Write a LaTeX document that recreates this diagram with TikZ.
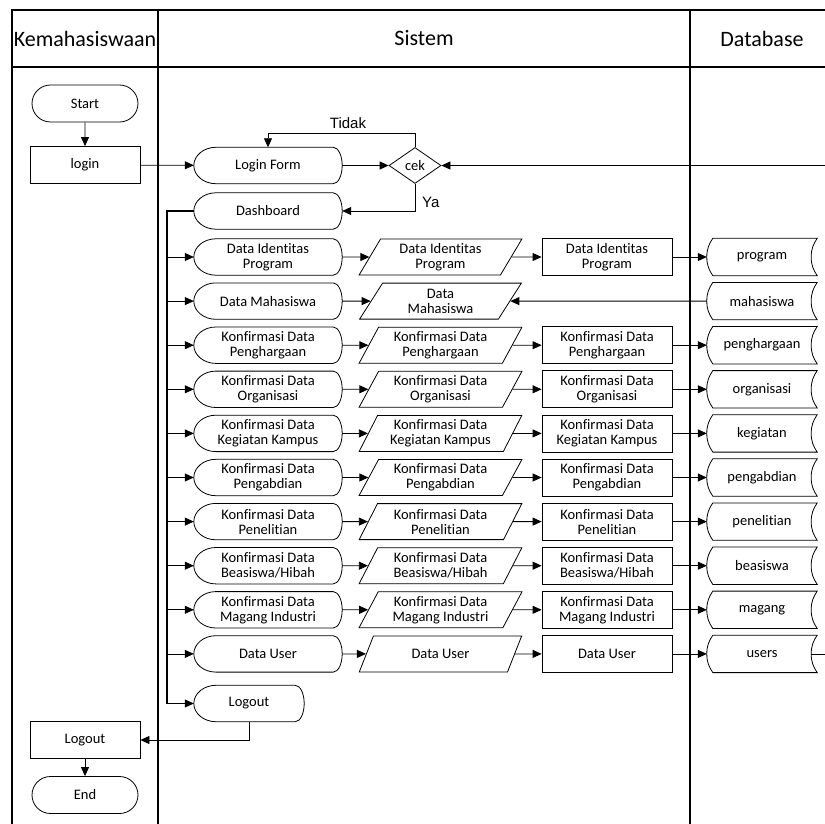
\documentclass[tikz,border=0pt]{standalone}
\usepackage{fontspec}
\setmainfont{Carlito}[Ligatures=NoCommon]
\newfontfamily\labelfont{Liberation Sans}
\usetikzlibrary{arrows.meta,calc,shapes.geometric,shapes.misc}

\tikzset{
  shapeline/.style={line width=0.8pt},
  lane/.style={line width=1.3pt},
  conn/.style={line width=0.8pt},
  trunkline/.style={line width=1.3pt},
  arr/.style={conn, -{Triangle[length=9pt,width=8pt]}},
  headtext/.style={font=\fontsize{22}{26}\selectfont},
  flowlabel/.style={font=\labelfont\fontsize{15}{17}\selectfont, inner sep=0pt},
  terminal/.style={rounded rectangle, draw, shapeline, minimum width=110pt, minimum height=37pt},
  process/.style={rectangle, draw, shapeline, minimum width=#1, minimum height=37pt},
  process/.default=130pt,
  decision/.style={diamond, draw, shapeline, minimum width=52pt, minimum height=36pt, inner sep=0pt},
  io/.style={trapezium, trapezium left angle=64, trapezium right angle=116,
    trapezium stretches=true, draw, shapeline, minimum width=163pt, minimum height=36pt},
  % display symbol: bulging left side, rounded right end
  disp/.style={minimum width=#1, minimum height=36pt,
    append after command={\pgfextra{\draw[shapeline]
      ($(\tikzlastnode.north west)+(22pt,0pt)$) -- ($(\tikzlastnode.north east)+(-9pt,0pt)$)
      .. controls +(5pt,0pt) and +(0pt,10pt) .. (\tikzlastnode.east)
      .. controls +(0pt,-10pt) and +(5pt,0pt) .. ($(\tikzlastnode.south east)+(-9pt,0pt)$)
      -- ($(\tikzlastnode.south west)+(22pt,0pt)$)
      .. controls +(-12pt,0pt) and +(0pt,-10pt) .. (\tikzlastnode.west)
      .. controls +(0pt,10pt) and +(-12pt,0pt) .. cycle;}}},
  disp/.default=148pt,
  % stored data symbol
  store/.style={minimum width=110pt, minimum height=37pt,
    append after command={\pgfextra{\draw[shapeline]
      ($(\tikzlastnode.north west)+(6pt,0pt)$) -- (\tikzlastnode.north east)
      .. controls +(-4pt,-6pt) and +(0pt,8pt) .. ($(\tikzlastnode.east)+(-6pt,0pt)$)
      .. controls +(0pt,-8pt) and +(-4pt,6pt) .. (\tikzlastnode.south east)
      -- ($(\tikzlastnode.south west)+(6pt,0pt)$)
      .. controls +(-4pt,6pt) and +(0pt,-8pt) .. (\tikzlastnode.west)
      .. controls +(0pt,8pt) and +(-4pt,-6pt) .. cycle;}}}
}

\begin{document}
\begin{tikzpicture}[x=1pt,y=-1pt,
  every node/.style={font=\fontsize{14.5}{15}\selectfont, align=center, inner sep=2pt}]
\useasboundingbox (0,0) rectangle (825,824);

% swimlane frame
\draw[lane] (12,850) -- (12,10) -- (850,10);
\draw[lane] (12,67) -- (850,67);
\draw[lane] (158,10) -- (158,850);
\draw[lane] (690,10) -- (690,850);
\node[headtext] (hK) at (85,38.5) {Kemahasiswaan};
\node[headtext] (hS) at (424,38.5) {Sistem};
\node[headtext] (hD) at (762,38.5) {Database};

% Kemahasiswaan lane
\node[terminal] (start) at (85,103.5) {Start};
\node[process=110pt] (login) at (85,165) {login};
\node[process=110pt] (logoutK) at (85,740) {Logout};
\node[terminal] (end) at (85,795) {End};

% login and check
\node[disp] (lform) at (268,165.5) {Login Form};
\node[decision] (cek) at (415,165.5) {cek};
\node[disp] (dash) at (268,211) {Dashboard};
\coordinate (tidakturn) at (415,133);
\coordinate (rim) at (840,400);
\coordinate (trunkend) at (167,703.5);
\node[flowlabel] (tidak) at (348,123) {Tidak};
\node[flowlabel, anchor=west] (ya) at (422,202) {Ya};

% menu rows
\foreach \i/\ta/\tb/\tc/\td in {
  0/{Data Identitas\\Program}/{Data Identitas\\Program}/{Data Identitas\\Program}/program,
  1/{Data Mahasiswa}/{Data\\Mahasiswa}/{}/mahasiswa,
  2/{Konfirmasi Data\\Penghargaan}/{Konfirmasi Data\\Penghargaan}/{Konfirmasi Data\\Penghargaan}/penghargaan,
  3/{Konfirmasi Data\\Organisasi}/{Konfirmasi Data\\Organisasi}/{Konfirmasi Data\\Organisasi}/organisasi,
  4/{Konfirmasi Data\\Kegiatan Kampus}/{Konfirmasi Data\\Kegiatan Kampus}/{Konfirmasi Data\\Kegiatan Kampus}/kegiatan,
  5/{Konfirmasi Data\\Pengabdian}/{Konfirmasi Data\\Pengabdian}/{Konfirmasi Data\\Pengabdian}/pengabdian,
  6/{Konfirmasi Data\\Penelitian}/{Konfirmasi Data\\Penelitian}/{Konfirmasi Data\\Penelitian}/penelitian,
  7/{Konfirmasi Data\\Beasiswa/Hibah}/{Konfirmasi Data\\Beasiswa/Hibah}/{Konfirmasi Data\\Beasiswa/Hibah}/beasiswa,
  8/{Konfirmasi Data\\Magang Industri}/{Konfirmasi Data\\Magang Industri}/{Konfirmasi Data\\Magang Industri}/magang,
  9/{Data User}/{Data User}/{Data User}/users} {
  \pgfmathsetmacro{\ry}{257+44.1*\i}
  \node[disp] (a\i) at (268,\ry) {\ta};
  \node[io] (b\i) at (440.5,\ry) {\tb};
  \node[store] (d\i) at (762,\ry) {\td};
  \draw[arr] (trunkend |- a\i.west) -- (a\i.west);
  \draw[arr] (a\i) -- (b\i);
  \ifnum\i=1\relax
    \draw[arr] (d\i) -- (b\i);
  \else
    \node[process] (c\i) at (607,\ry) {\tc};
    \draw[arr] (b\i) -- (c\i);
    \draw[arr] (c\i) -- (d\i);
  \fi
}
\node[disp=110pt] (logoutS) at (249,703.5) {Logout};

% connectors
\draw[arr] (start) -- (login);
\draw[arr] (login) -- (lform);
\draw[arr] (lform) -- (cek);
\draw[arr] (cek.north) -- (tidakturn) -| (lform.north);
\draw[arr] (cek.south) |- (dash.east);
\draw[arr] ($(d9.east)+(-6pt,0pt)$) -| (rim) |- (cek.east);
\draw[trunkline] (dash.west) -| (trunkend);
\draw[arr] (trunkend) -- (logoutS.west);
\draw[arr] (logoutS.south) |- (logoutK.east);
\draw[arr] (logoutK) -- (end);
\end{tikzpicture}
\end{document}
